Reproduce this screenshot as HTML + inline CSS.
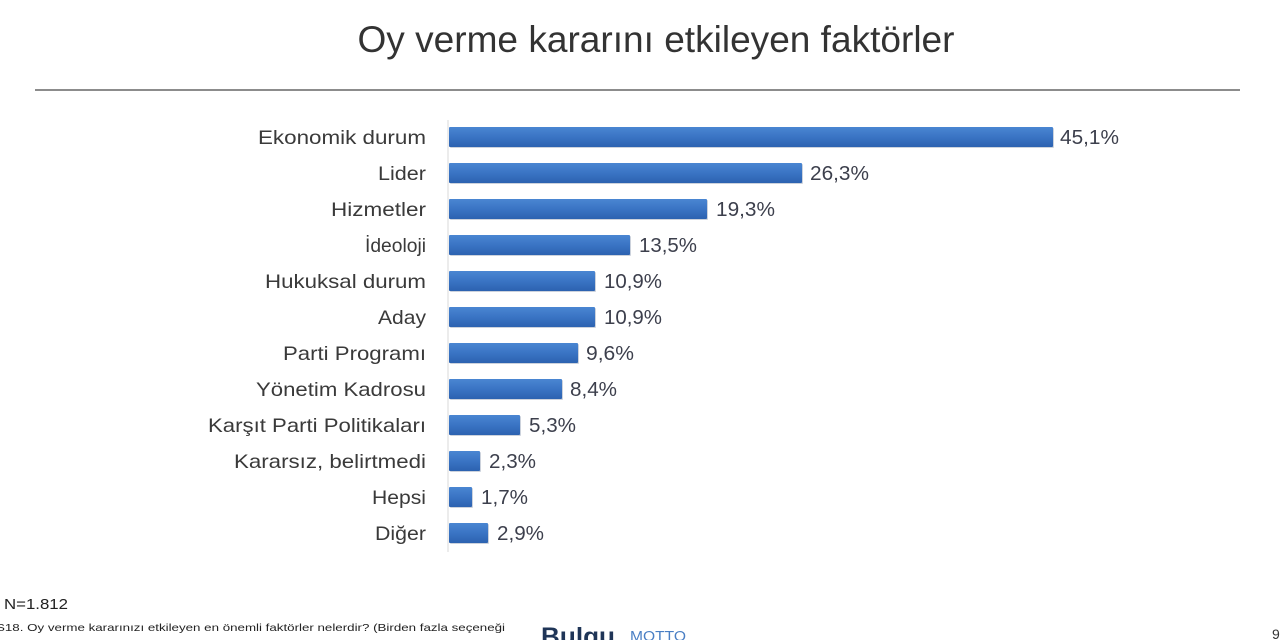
<!DOCTYPE html>
<html>
<head>
<meta charset="utf-8">
<style>
html,body{margin:0;padding:0;background:#fff;}
svg{display:block;}
text{font-family:"Liberation Sans","DejaVu Sans",sans-serif;}
</style>
</head>
<body>
<svg width="1280" height="640" viewBox="0 0 1280 640" xmlns="http://www.w3.org/2000/svg">
<defs>
<linearGradient id="bg" x1="0" y1="0" x2="0" y2="1">
<stop offset="0" stop-color="#4a86d2"/>
<stop offset="0.5" stop-color="#3a74c4"/>
<stop offset="1" stop-color="#2c62b0"/>
</linearGradient>
</defs>
<rect width="1280" height="640" fill="#fff"/>
<text x="656" y="52" font-size="37" fill="#333" text-anchor="middle" textLength="597" lengthAdjust="spacingAndGlyphs">Oy verme kararını etkileyen faktörler</text>
<rect x="35" y="89" width="1205" height="2" fill="#8c8c8c"/>
<line x1="448" y1="120" x2="448" y2="552" stroke="#d9d9d9" stroke-width="1"/>

<g fill="#3a3a3a" font-size="19.5">
<text x="426" y="144" text-anchor="end" textLength="168" lengthAdjust="spacingAndGlyphs">Ekonomik durum</text>
<text x="426" y="180" text-anchor="end" textLength="48" lengthAdjust="spacingAndGlyphs">Lider</text>
<text x="426" y="216" text-anchor="end" textLength="95" lengthAdjust="spacingAndGlyphs">Hizmetler</text>
<text x="426" y="252" text-anchor="end" textLength="61" lengthAdjust="spacingAndGlyphs">İdeoloji</text>
<text x="426" y="288" text-anchor="end" textLength="161" lengthAdjust="spacingAndGlyphs">Hukuksal durum</text>
<text x="426" y="324" text-anchor="end" textLength="48" lengthAdjust="spacingAndGlyphs">Aday</text>
<text x="426" y="360" text-anchor="end" textLength="143" lengthAdjust="spacingAndGlyphs">Parti Programı</text>
<text x="426" y="396" text-anchor="end" textLength="170" lengthAdjust="spacingAndGlyphs">Yönetim Kadrosu</text>
<text x="426" y="432" text-anchor="end" textLength="218" lengthAdjust="spacingAndGlyphs">Karşıt Parti Politikaları</text>
<text x="426" y="468" text-anchor="end" textLength="192" lengthAdjust="spacingAndGlyphs">Kararsız, belirtmedi</text>
<text x="426" y="504" text-anchor="end" textLength="54" lengthAdjust="spacingAndGlyphs">Hepsi</text>
<text x="426" y="540" text-anchor="end" textLength="51" lengthAdjust="spacingAndGlyphs">Diğer</text>
</g>

<g fill="#9aa7bb" opacity="0.5">
<rect x="450" y="128" width="604" height="20" rx="1"/>
<rect x="450" y="164" width="353" height="20" rx="1"/>
<rect x="450" y="200" width="258" height="20" rx="1"/>
<rect x="450" y="236" width="181" height="20" rx="1"/>
<rect x="450" y="272" width="146" height="20" rx="1"/>
<rect x="450" y="308" width="146" height="20" rx="1"/>
<rect x="450" y="344" width="129" height="20" rx="1"/>
<rect x="450" y="380" width="113" height="20" rx="1"/>
<rect x="450" y="416" width="71" height="20" rx="1"/>
<rect x="450" y="452" width="31" height="20" rx="1"/>
<rect x="450" y="488" width="23" height="20" rx="1"/>
<rect x="450" y="524" width="39" height="20" rx="1"/>
</g>
<g fill="url(#bg)">
<rect x="449" y="127" width="604" height="20" rx="1"/>
<rect x="449" y="163" width="353" height="20" rx="1"/>
<rect x="449" y="199" width="258" height="20" rx="1"/>
<rect x="449" y="235" width="181" height="20" rx="1"/>
<rect x="449" y="271" width="146" height="20" rx="1"/>
<rect x="449" y="307" width="146" height="20" rx="1"/>
<rect x="449" y="343" width="129" height="20" rx="1"/>
<rect x="449" y="379" width="113" height="20" rx="1"/>
<rect x="449" y="415" width="71" height="20" rx="1"/>
<rect x="449" y="451" width="31" height="20" rx="1"/>
<rect x="449" y="487" width="23" height="20" rx="1"/>
<rect x="449" y="523" width="39" height="20" rx="1"/>
</g>

<g fill="#3c3f4c" font-size="20">
<text x="1060" y="144" textLength="59" lengthAdjust="spacingAndGlyphs">45,1%</text>
<text x="810" y="180" textLength="59" lengthAdjust="spacingAndGlyphs">26,3%</text>
<text x="716" y="216" textLength="59" lengthAdjust="spacingAndGlyphs">19,3%</text>
<text x="639" y="252" textLength="58" lengthAdjust="spacingAndGlyphs">13,5%</text>
<text x="604" y="288" textLength="58" lengthAdjust="spacingAndGlyphs">10,9%</text>
<text x="604" y="324" textLength="58" lengthAdjust="spacingAndGlyphs">10,9%</text>
<text x="586" y="360" textLength="48" lengthAdjust="spacingAndGlyphs">9,6%</text>
<text x="570" y="396" textLength="47" lengthAdjust="spacingAndGlyphs">8,4%</text>
<text x="529" y="432" textLength="47" lengthAdjust="spacingAndGlyphs">5,3%</text>
<text x="489" y="468" textLength="47" lengthAdjust="spacingAndGlyphs">2,3%</text>
<text x="481" y="504" textLength="47" lengthAdjust="spacingAndGlyphs">1,7%</text>
<text x="497" y="540" textLength="47" lengthAdjust="spacingAndGlyphs">2,9%</text>
</g>

<text x="4" y="609" font-size="15" fill="#222" textLength="64" lengthAdjust="spacingAndGlyphs">N=1.812</text>
<text x="-4" y="631" font-size="10.5" fill="#222" textLength="509" lengthAdjust="spacingAndGlyphs">S18. Oy verme kararınızı etkileyen en önemli faktörler nelerdir? (Birden fazla seçeneği</text>
<text x="541" y="645" font-size="25" font-weight="bold" fill="#1f3557" textLength="74" lengthAdjust="spacingAndGlyphs">Bulgu</text>
<text x="630" y="641" font-size="15" fill="#4a7fc4" textLength="56" lengthAdjust="spacingAndGlyphs">MOTTO</text>
<text x="1272" y="639" font-size="14" fill="#333">9</text>
</svg>
</body>
</html>
